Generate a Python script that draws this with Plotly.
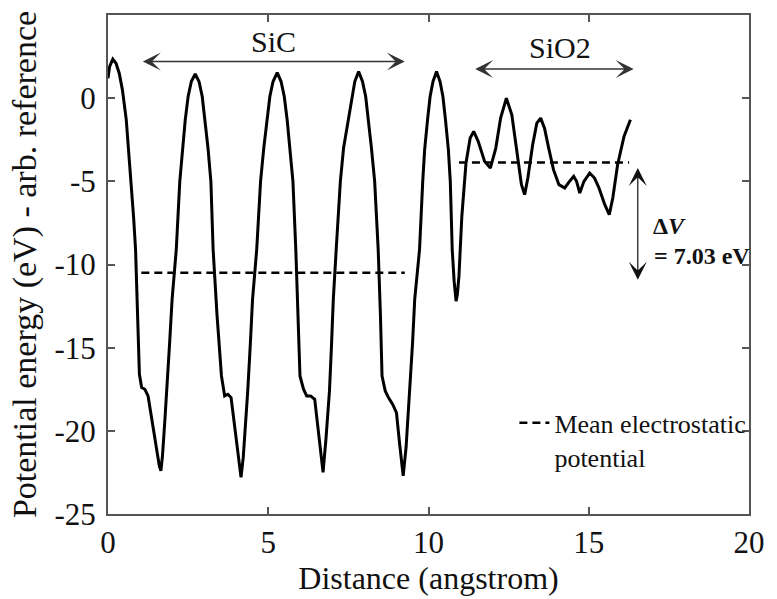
import plotly.graph_objects as go

# ---- data ----
distance = [0.00, 0.05, 0.15, 0.25, 0.35, 0.45, 0.57, 0.65, 0.73, 0.80, 0.86, 0.92, 0.98,
            1.05, 1.15, 1.25, 1.40, 1.52, 1.60, 1.65, 1.70, 1.77, 1.84, 1.92, 2.00, 2.13,
            2.24, 2.33, 2.41, 2.50, 2.60, 2.72, 2.84, 2.94, 3.03, 3.12, 3.21, 3.28, 3.40,
            3.54, 3.64, 3.74, 3.84, 3.95, 4.05, 4.15, 4.22, 4.30, 4.36, 4.44, 4.51, 4.64,
            4.76, 4.86, 4.96, 5.05, 5.15, 5.28, 5.40, 5.50, 5.59, 5.68, 5.77, 5.86, 5.92,
            5.99, 6.10, 6.20, 6.32, 6.45, 6.58, 6.71, 6.80, 6.91, 6.97, 7.03, 7.12, 7.25,
            7.35, 7.50, 7.60, 7.70, 7.82, 7.94, 8.04, 8.13, 8.22, 8.32, 8.43, 8.50, 8.55,
            8.65, 8.75, 8.88, 9.00, 9.10, 9.21, 9.30, 9.42, 9.50, 9.57, 9.72, 9.82, 9.88,
            9.97, 10.05, 10.14, 10.25, 10.36, 10.45, 10.53, 10.62, 10.68, 10.74, 10.80,
            10.86, 10.90, 10.95, 11.04, 11.10, 11.17, 11.30, 11.41, 11.55, 11.75, 11.93,
            12.10, 12.25, 12.43, 12.60, 12.75, 12.90, 13.00, 13.10, 13.25, 13.38, 13.50,
            13.62, 13.75, 13.90, 14.07, 14.25, 14.40, 14.53, 14.62, 14.72, 14.85, 15.03,
            15.18, 15.32, 15.50, 15.64, 15.75, 15.90, 16.10, 16.30]
potential = [1.2, 1.9, 2.35, 2.1, 1.5, 0.5, -1.3, -3.3, -5.0, -7.2, -9.1, -12.8, -16.6,
             -17.4, -17.5, -17.9, -19.6, -21.2, -22.1, -22.4, -21.5, -19.5, -17.6, -14.8, -12.1, -9.1,
             -5.0, -3.0, -1.3, 0.1, 1.0, 1.45, 1.0, 0.1, -1.3, -3.0, -5.0, -9.1, -13.0,
             -16.7, -17.9, -17.8, -18.0, -19.8, -21.5, -22.8, -21.6, -19.5, -17.6, -14.8, -12.1, -9.1,
             -5.0, -3.0, -1.3, 0.1, 1.0, 1.53, 1.0, 0.1, -1.3, -3.0, -5.0, -9.1, -12.5,
             -16.7, -17.5, -17.9, -17.9, -18.1, -20.3, -22.5, -20.5, -17.6, -15.0, -12.1, -9.1, -5.0,
             -3.0, -1.3, 0.1, 1.0, 1.6, 1.0, 0.1, -1.3, -3.0, -5.0, -9.1, -13.0, -16.7,
             -17.6, -18.0, -18.4, -18.9, -20.8, -22.7, -21.0, -17.6, -14.8, -12.1, -9.1, -5.0, -3.1,
             -1.3, 0.1, 1.0, 1.6, 1.0, 0.1, -1.3, -3.1, -5.0, -9.1, -11.0,
             -12.2, -11.8, -10.7, -7.1, -5.5, -3.9, -2.4, -2.0, -2.6, -3.8, -4.2,
             -3.0, -1.2, 0.0, -1.0, -3.2, -5.2, -5.8, -4.8, -2.8, -1.5, -1.2,
             -1.8, -3.0, -4.3, -5.2, -5.4, -5.0, -4.7, -5.0, -5.7, -5.0, -4.5,
             -4.8, -5.4, -6.4, -7.0, -6.0, -4.0, -2.3, -1.3]

sic_range = [1.04, 9.26]
sio2_range = [10.95, 16.26]
sic_mean = -10.5
sio2_mean = -3.87
sic_arrow_y = 2.2
sio2_arrow_y = 1.75
sio2_arrow_range = [11.41, 16.4]
dv_arrow_x = 16.53
dv_arrow_range = [-4.2, -11.0]
dv_label = "= 7.03 eV"

x_ticks = [0, 5, 10, 15, 20]
y_ticks = [-25, -20, -15, -10, -5, 0, 5]
y_tick_text = ["-25", "-20", "-15", "-10", "-5", "0", "5"]

FONT = "Liberation Serif, Times New Roman, Times, DejaVu Serif, serif"

fig = go.Figure()
fig.add_trace(go.Scatter(x=distance, y=potential, mode="lines",
                         line=dict(color="black", width=3), showlegend=False,
                         hoverinfo="skip"))
fig.add_trace(go.Scatter(
    x=[sic_range[0], sic_range[1], None, sio2_range[0], sio2_range[1]],
    y=[sic_mean, sic_mean, None, sio2_mean, sio2_mean],
    mode="lines", line=dict(color="black", width=2.5, dash="8px,5px"),
    name="Mean electrostatic<br>potential", showlegend=True))

# region arrows
fig.add_annotation(x=sic_range[1], y=sic_arrow_y, ax=sic_range[0], ay=sic_arrow_y,
                   xref="x", yref="y", axref="x", ayref="y", text="", showarrow=True,
                   arrowside="end+start", arrowhead=3, arrowsize=2, arrowwidth=1.5,
                   arrowcolor="#333")
fig.add_annotation(x=sio2_arrow_range[1], y=sio2_arrow_y, ax=sio2_arrow_range[0], ay=sio2_arrow_y,
                   xref="x", yref="y", axref="x", ayref="y", text="", showarrow=True,
                   arrowside="end+start", arrowhead=3, arrowsize=2, arrowwidth=1.5,
                   arrowcolor="#333")
fig.add_annotation(x=dv_arrow_x, y=dv_arrow_range[0], ax=dv_arrow_x, ay=dv_arrow_range[1],
                   xref="x", yref="y", axref="x", ayref="y", text="", showarrow=True,
                   arrowside="end+start", arrowhead=3, arrowsize=2.5, arrowwidth=1.2,
                   arrowcolor="#111")

fig.add_annotation(x=(sic_range[0] + sic_range[1]) / 2, y=sic_arrow_y, yshift=20, text="SiC",
                   showarrow=False, font=dict(family=FONT, size=30, color="#111"))
fig.add_annotation(x=(sio2_arrow_range[0] + sio2_arrow_range[1]) / 2, y=sio2_arrow_y, yshift=22,
                   xshift=6, text="SiO2", showarrow=False,
                   font=dict(family=FONT, size=30, color="#111"))
fig.add_annotation(x=dv_arrow_x, y=-7.7, xshift=13, xanchor="left", text="<b>Δ<i>V</i></b>",
                   showarrow=False, font=dict(family=FONT, size=24, color="#111"))
fig.add_annotation(x=dv_arrow_x, y=-9.5, xshift=14, xanchor="left", text="<b>" + dv_label + "</b>",
                   showarrow=False, font=dict(family=FONT, size=24, color="#111"))

axis_common = dict(showline=True, linecolor="#555", linewidth=2, mirror="ticks",
                   ticks="inside", ticklen=7, tickwidth=1.5, tickcolor="#555",
                   showgrid=False, zeroline=False,
                   tickfont=dict(family=FONT, size=31, color="#111"))

fig.update_layout(
    width=777, height=599,
    margin=dict(l=108, r=17, t=15, b=83, pad=0),
    paper_bgcolor="white", plot_bgcolor="white",
    font=dict(family=FONT, color="#111"),
    xaxis=dict(range=[0, 20], tickvals=x_ticks,
               title=dict(text="Distance (angstrom)", font=dict(family=FONT, size=32), standoff=4),
               **axis_common),
    yaxis=dict(range=[-25, 5], tickvals=y_ticks, ticktext=y_tick_text, ticklabelstandoff=4,
               title=dict(text="Potential energy (eV) - arb. reference",
                          font=dict(family=FONT, size=34), standoff=8),
               **axis_common),
    legend=dict(x=0.634, y=0.23, xanchor="left", yanchor="top", valign="top",
                bgcolor="rgba(0,0,0,0)", font=dict(family=FONT, size=26, color="#111"),
                tracegroupgap=0),
)

fig.write_html("out.html")
